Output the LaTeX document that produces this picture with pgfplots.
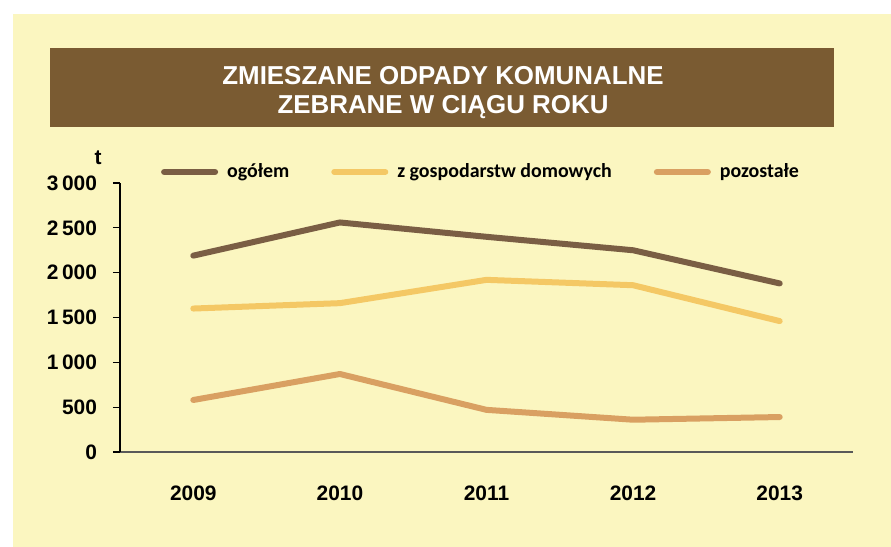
\documentclass[border=0pt]{standalone}
\usepackage{pgfplots}
\pgfplotsset{compat=1.18}
\usepackage{fontspec}
\setmainfont{Liberation Sans}
\newfontfamily\legfont{Carlito}
\definecolor{bgyel}{RGB}{251,246,192}
\definecolor{titlebrown}{RGB}{122,91,50}
\definecolor{cOgol}{RGB}{122,94,68}
\definecolor{cDom}{RGB}{244,200,101}
\definecolor{cPoz}{RGB}{217,160,98}
\begin{document}
\begin{tikzpicture}
% background
\fill[white] (0bp,0bp) rectangle (445.5bp,-273.5bp);
\fill[bgyel] (6.5bp,-7bp) rectangle (445.5bp,-273.5bp);
% title box
\fill[titlebrown] (25bp,-24bp) rectangle (417bp,-63.5bp);
\node[white,anchor=base,font=\fontsize{13}{15}\selectfont\bfseries] at (221.5bp,-42bp) {ZMIESZANE ODPADY KOMUNALNE};
\node[white,anchor=base,font=\fontsize{13}{15}\selectfont\bfseries] at (221.5bp,-56.5bp) {ZEBRANE W CIĄGU ROKU};
% unit
\node[font=\fontsize{10.5}{12}\selectfont\bfseries] at (49bp,-79bp) {t};
\begin{axis}[
  at={(60bp,-226bp)}, anchor=south west,
  scale only axis, width=366.5bp, height=134.5bp,
  xmin=-0.5, xmax=4.5, ymin=0, ymax=3000,
  axis x line=bottom, axis y line=left,
  axis line style={-},
  x axis line style={gray!70!black, line width=0.6pt},
  y axis line style={black, line width=0.9pt},
  xtick={0,1,2,3,4},
  xticklabels={2009,2010,2011,2012,2013},
  xtick style={draw=none},
  minor xtick={-0.5,0.5,1.5,2.5,3.5,4.5},
  minor x tick style={gray!70!black, line width=0.6pt},
  minor tick length=3bp,
  ytick={0,500,1000,1500,2000,2500,3000},
  yticklabels={0,500,1\,000,1\,500,2\,000,2\,500,3\,000},
  y tick style={black, line width=0.6pt},
  major tick length=3.5bp,
  tick align=outside,
  tick label style={font=\fontsize{10.5}{12}\selectfont\bfseries},
  xticklabel style={yshift=-10bp},
  yticklabel style={xshift=-4.5bp},
  legend style={at={(0.052,1.041)}, anchor=west, draw=none, fill=none,
    inner sep=0pt, outer sep=0pt,
    font=\legfont\fontsize{10}{12}\selectfont\bfseries,
    nodes={inner sep=0pt},
    /tikz/every odd column/.append style={column sep=3bp},
    /tikz/every even column/.append style={column sep=19.5bp}},
  legend columns=-1,
  legend image code/.code={\path (0bp,0bp) (28.5bp,0bp);\draw[#1] (1.5bp,0bp) -- (27bp,0bp);},
  every axis plot/.append style={line width=3bp, line join=round, line cap=round},
]
\addplot[cOgol] coordinates {(0,2190) (1,2560) (2,2400) (3,2250) (4,1880)};
\addlegendentry{ogółem}
\addplot[cDom] coordinates {(0,1600) (1,1660) (2,1920) (3,1860) (4,1460)};
\addlegendentry{z gospodarstw domowych}
\addplot[cPoz] coordinates {(0,580) (1,870) (2,470) (3,360) (4,390)};
\addlegendentry{pozostałe}
\end{axis}
\end{tikzpicture}
\end{document}
